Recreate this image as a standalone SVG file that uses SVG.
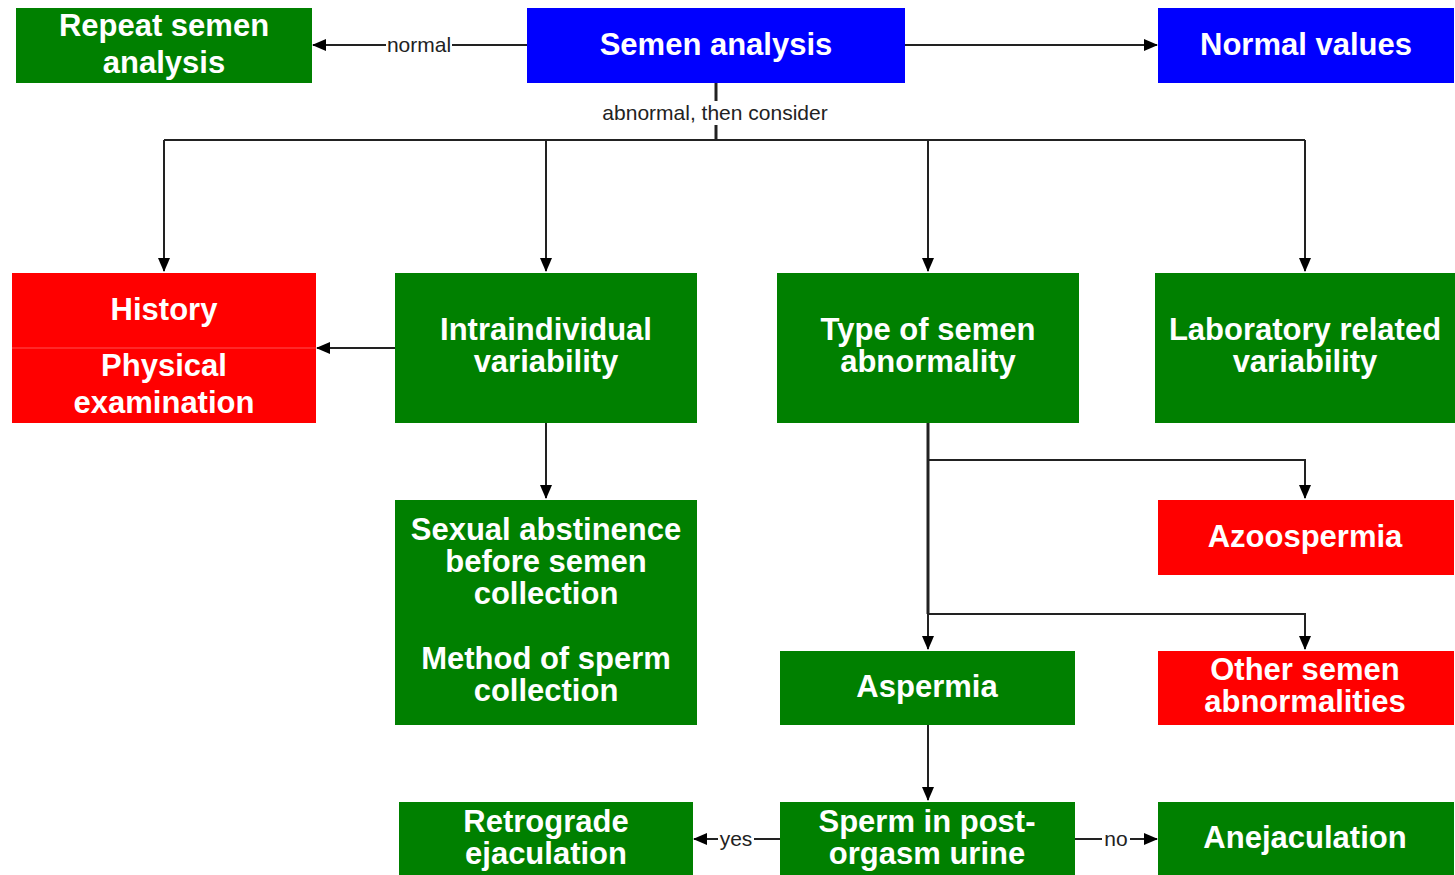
<svg xmlns="http://www.w3.org/2000/svg" width="1455" height="875" viewBox="0 0 1455 875">
<style>
.g{fill:#008000}
.r{fill:#ff0000}
.b{fill:#0000ff}
.t{font-family:"Liberation Sans",Arial,sans-serif;font-weight:bold;font-size:31px;fill:#fff;text-anchor:middle}
.l{font-family:"Liberation Sans",Arial,sans-serif;font-size:21px;fill:#222;text-anchor:middle}
.c{fill:none;stroke:#222;stroke-width:2}
.c.k{stroke-width:3}
</style>
<defs>
<marker id="ah" markerWidth="14" markerHeight="12" refX="13" refY="6" orient="auto" markerUnits="userSpaceOnUse">
<path d="M0,0 L14,6 L0,12 Z" fill="#000"/>
</marker>
</defs>
<rect width="1455" height="875" fill="#fff"/>
<g id="connectors">
<path class="c" d="M527,45 H313" marker-end="url(#ah)"/>
<path class="c" d="M905,45 H1157" marker-end="url(#ah)"/>
<path class="c k" d="M716,83 V140"/>
<path class="c" d="M164,140 H1305"/>
<path class="c" d="M164,140 V271" marker-end="url(#ah)"/>
<path class="c" d="M546,140 V271" marker-end="url(#ah)"/>
<path class="c" d="M928,140 V271" marker-end="url(#ah)"/>
<path class="c" d="M1305,140 V271" marker-end="url(#ah)"/>
<path class="c" d="M395,348 H317" marker-end="url(#ah)"/>
<path class="c" d="M546,423 V498" marker-end="url(#ah)"/>
<path class="c k" d="M928,423 V614"/>
<path class="c" d="M928,614 V649" marker-end="url(#ah)"/>
<path class="c" d="M928,460 H1305 V498" marker-end="url(#ah)"/>
<path class="c" d="M928,614 H1305 V649" marker-end="url(#ah)"/>
<path class="c" d="M928,725 V800" marker-end="url(#ah)"/>
<path class="c" d="M780,839 H694" marker-end="url(#ah)"/>
<path class="c" d="M1075,839 H1157" marker-end="url(#ah)"/>
<rect x="386" y="33" width="66" height="22" fill="#fff"/>
<text class="l" x="419" y="52">normal</text>
<rect x="597" y="101" width="236" height="24" fill="#fff"/>
<text class="l" x="715" y="120">abnormal, then consider</text>
<rect x="718" y="828" width="36" height="22" fill="#fff"/>
<text class="l" x="736" y="846">yes</text>
<rect x="1102" y="828" width="28" height="22" fill="#fff"/>
<text class="l" x="1116" y="846">no</text>
</g>
<g id="repeat"><rect class="g" x="16" y="8" width="296" height="75"/><text class="t" x="164" y="36">Repeat semen</text><text class="t" x="164" y="73">analysis</text></g>
<g id="semen"><rect class="b" x="527" y="8" width="378" height="75"/><text class="t" x="716" y="55">Semen analysis</text></g>
<g id="normal"><rect class="b" x="1158" y="8" width="296" height="75"/><text class="t" x="1306" y="55">Normal values</text></g>
<g id="history"><rect class="r" x="12" y="273" width="304" height="150"/><line x1="12" y1="348" x2="316" y2="348" stroke="#ff5050" stroke-width="1"/><text class="t" x="164" y="320">History</text><text class="t" x="164" y="376">Physical</text><text class="t" x="164" y="413">examination</text></g>
<g id="intra"><rect class="g" x="395" y="273" width="302" height="150"/><text class="t" x="546" y="340">Intraindividual</text><text class="t" x="546" y="372">variability</text></g>
<g id="type"><rect class="g" x="777" y="273" width="302" height="150"/><text class="t" x="928" y="340">Type of semen</text><text class="t" x="928" y="372">abnormality</text></g>
<g id="lab"><rect class="g" x="1155" y="273" width="300" height="150"/><text class="t" x="1305" y="340">Laboratory related</text><text class="t" x="1305" y="372">variability</text></g>
<g id="sexual"><rect class="g" x="395" y="500" width="302" height="225"/><text class="t" x="546" y="540">Sexual abstinence</text><text class="t" x="546" y="572">before semen</text><text class="t" x="546" y="604">collection</text><text class="t" x="546" y="669">Method of sperm</text><text class="t" x="546" y="701">collection</text></g>
<g id="azoo"><rect class="r" x="1158" y="500" width="296" height="75"/><text class="t" x="1305" y="547">Azoospermia</text></g>
<g id="aspermia"><rect class="g" x="780" y="651" width="295" height="74"/><text class="t" x="927" y="697">Aspermia</text></g>
<g id="other"><rect class="r" x="1158" y="651" width="296" height="74"/><text class="t" x="1305" y="680">Other semen</text><text class="t" x="1305" y="712">abnormalities</text></g>
<g id="retro"><rect class="g" x="399" y="802" width="294" height="73"/><text class="t" x="546" y="832">Retrograde</text><text class="t" x="546" y="864">ejaculation</text></g>
<g id="sperm"><rect class="g" x="780" y="802" width="295" height="73"/><text class="t" x="927" y="832">Sperm in post-</text><text class="t" x="927" y="864">orgasm urine</text></g>
<g id="anejac"><rect class="g" x="1158" y="802" width="296" height="73"/><text class="t" x="1305" y="848">Anejaculation</text></g>
</svg>
